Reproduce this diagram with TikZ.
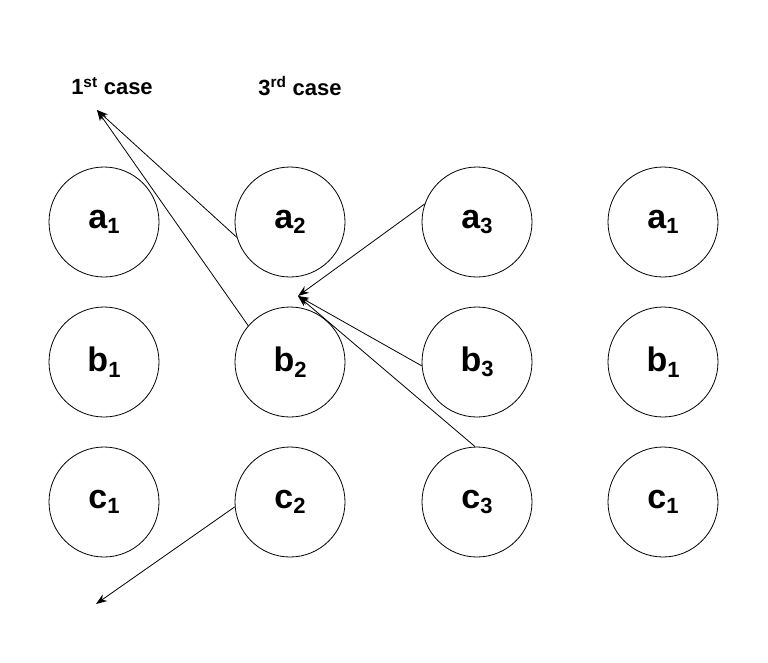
\documentclass[tikz,border=0pt]{standalone}
\usepackage{fontspec}
\setmainfont{Liberation Sans}
\usetikzlibrary{arrows.meta}
\newcommand{\sbs}[1]{\raisebox{-0.3ex}{\fontsize{22}{24}\selectfont #1}}
\begin{document}
\begin{tikzpicture}[x=1pt,y=-1pt,
  c/.style={circle,draw,line width=0.8pt,minimum size=110pt,inner sep=0pt,font=\fontsize{34}{36}\selectfont\bfseries},
  lab/.style={font=\fontsize{22}{24}\selectfont\bfseries},
  ar/.style={-{Stealth[length=11pt,width=8pt]},line width=0.8pt}]
\useasboundingbox (0,0) rectangle (768,662);
\foreach \x/\i in {104/1,290/2,477/3}{
  \node[c] (a\i) at (\x,222) {a\sbs{\i}};
  \node[c] (b\i) at (\x,362) {b\sbs{\i}};
  \node[c] (c\i) at (\x,502) {c\sbs{\i}};
}
\node[c] (a4) at (663,222) {a\sbs{1}};
\node[c] (b4) at (663,362) {b\sbs{1}};
\node[c] (c4) at (663,502) {c\sbs{1}};
\node[lab] (l1) at (112,86) {1\textsuperscript{st} case};
\node[lab] (l3) at (300,86) {3\textsuperscript{rd} case};
\coordinate (t1) at (97,110);
\coordinate (t2) at (298,296);
\coordinate (t3) at (96,604);
\draw[ar] (a2.196) -- (t1);
\draw[ar] (b2.139) -- (t1);
\draw[ar] (a3.161) -- (t2);
\draw[ar] (b3.184) -- (t2);
\draw[ar] (c3.92) -- (t2);
\draw[ar] (c2.185) -- (t3);
\end{tikzpicture}
\end{document}
